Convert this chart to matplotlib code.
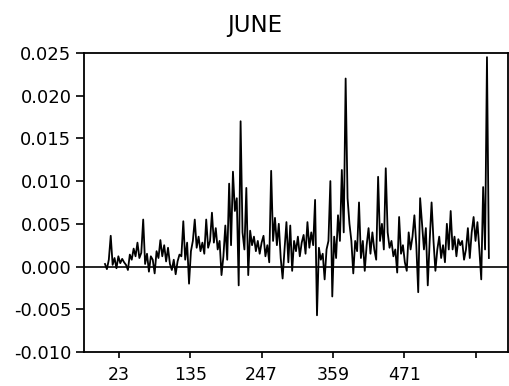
import numpy as np
import matplotlib.pyplot as plt

x = np.arange(1, 605, 3)
y = [
    0.0003, -0.0003, 0.0008, 0.0036, 0.0002, 0.0010, -0.0002, 0.0012, 0.0004, 0.0009,
    0.0005, 0.0002, -0.0004, 0.0014, 0.0008, 0.0021, 0.0012, 0.0028, 0.0010, 0.0016,
    0.0055, 0.0003, 0.0015, -0.0006, 0.0012, 0.0008, -0.0008, 0.0018, 0.0010, 0.0031,
    0.0012, 0.0025, 0.0006, 0.0022, 0.0003, -0.0004, 0.0008, -0.0009, 0.0006, 0.0014,
    0.0012, 0.0053, 0.0008, 0.0028, -0.0020, 0.0018, 0.0030, 0.0055, 0.0022, 0.0035,
    0.0018, 0.0028, 0.0015, 0.0055, 0.0022, 0.0030, 0.0063, 0.0028, 0.0045, 0.0020,
    0.0030, -0.0010, 0.0012, 0.0048, 0.0008, 0.0097, 0.0025, 0.0111, 0.0065, 0.0080,
    -0.0022, 0.0170, 0.0040, 0.0020, 0.0092, -0.0010, 0.0042, 0.0025, 0.0035, 0.0018,
    0.0030, 0.0015, 0.0028, 0.0036, 0.0012, 0.0025, 0.0005, 0.0112, 0.0030, 0.0057,
    0.0025, 0.0050, 0.0010, -0.0014, 0.0020, 0.0052, 0.0005, 0.0048, -0.0005, 0.0030,
    0.0018, 0.0035, 0.0012, 0.0028, 0.0037, 0.0015, 0.0052, 0.0022, 0.0040, 0.0025,
    0.0078, -0.0057, 0.0022, 0.0008, 0.0015, -0.0015, 0.0020, 0.0030, 0.0100, -0.0035,
    0.0035, 0.0010, 0.0060, 0.0030, 0.0113, 0.0040, 0.0220, 0.0080, 0.0050, 0.0030,
    -0.0008, 0.0030, 0.0018, 0.0075, 0.0010, 0.0030, -0.0005, 0.0025, 0.0045, 0.0015,
    0.0040, 0.0020, 0.0008, 0.0105, 0.0030, 0.0050, 0.0020, 0.0115, 0.0040, 0.0022,
    0.0030, 0.0012, 0.0020, -0.0007, 0.0058, 0.0015, 0.0025, 0.0005, -0.0005, 0.0040,
    0.0020, 0.0035, 0.0060, 0.0025, -0.0030, 0.0080, 0.0050, 0.0020, 0.0045, -0.0022,
    0.0030, 0.0075, 0.0030, -0.0005, 0.0020, 0.0035, 0.0010, 0.0025, 0.0005, 0.0050,
    0.0020, 0.0065, 0.0020, 0.0035, 0.0012, 0.0032, 0.0025, 0.0030, 0.0008, 0.0020,
    0.0045, 0.0010, 0.0040, 0.0058, 0.0030, 0.0052, 0.0020, -0.0015, 0.0093, 0.0020,
    0.0245, 0.0010,
]
xticks = [23, 135, 247, 359, 471, 583]
xticklabels = ['23', '135', '247', '359', '471', '']
yticks = [-0.010, -0.005, 0.000, 0.005, 0.010, 0.015, 0.020, 0.025]

fig = plt.figure(figsize=(5.09, 3.86), dpi=100)
ax = fig.add_axes([0.165, 0.088, 0.833, 0.775])

ax.plot(x, y, color='black', lw=1.3)
ax.axhline(0, color='black', lw=1.2)

ax.set_xlim(-32, 634)
ax.set_ylim(-0.010, 0.025)
ax.set_xticks(xticks)
ax.set_xticklabels(xticklabels)
ax.set_yticks(yticks)
ax.set_yticklabels([f'{v:.3f}' for v in yticks])
ax.tick_params(axis='y', direction='out', length=6, width=1.2, labelsize=13, pad=3)
ax.tick_params(axis='x', direction='out', length=4, width=1.2, labelsize=12.5, pad=6)

for s in ax.spines.values():
    s.set_linewidth(1.3)

fig.text(0.5, 0.935, 'JUNE', ha='center', va='center', fontsize=16.5)

fig.savefig('out.png', dpi=100)
